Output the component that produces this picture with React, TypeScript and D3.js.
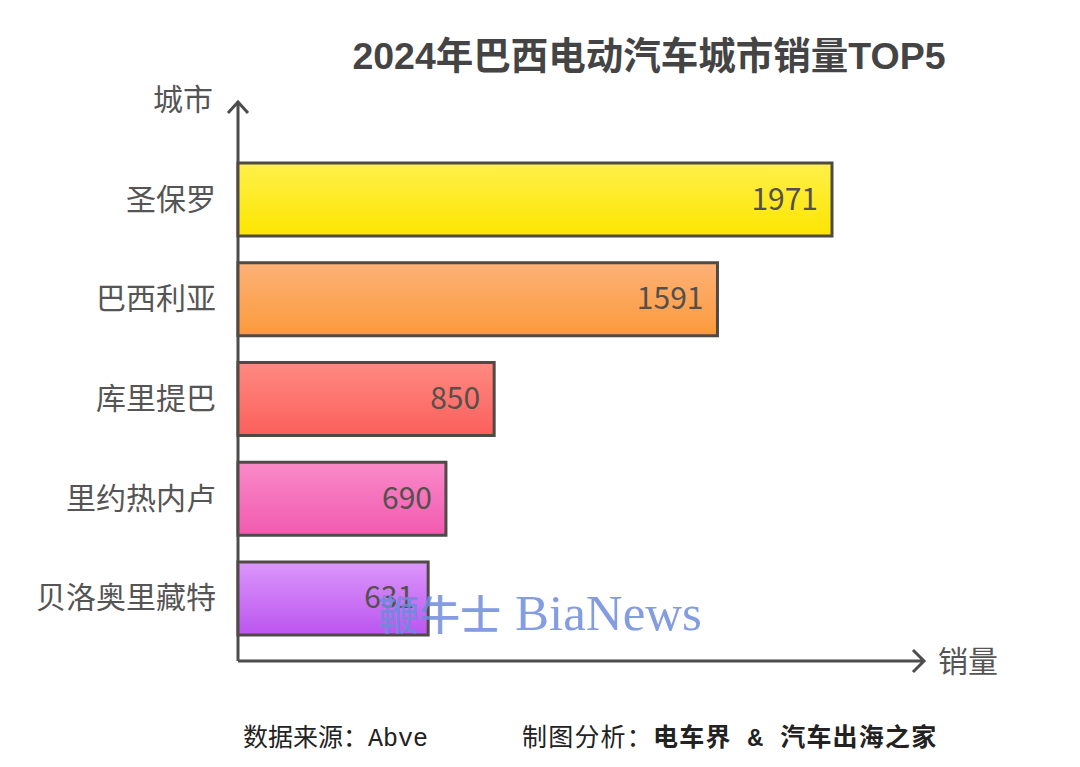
import React from 'react';
import * as d3 from 'd3';

const cities = ['圣保罗', '巴西利亚', '库里提巴', '里约热内卢', '贝洛奥里藏特'];
const sales = [1971, 1591, 850, 690, 631];
const gradientTop = ['#fff04a', '#fdb177', '#ff8a80', '#f98ac8', '#dc96fb'];
const gradientBottom = ['#fde500', '#fb9a3c', '#fb5f5c', '#f25ab0', '#bb55f0'];

const width = 1080;
const height = 767;
const cjk = '"Noto Sans CJK SC", "Noto Sans", sans-serif';
const footerFont = '"Liberation Mono", "Noto Sans CJK SC", monospace';

const x = d3.scaleLinear().domain([0, 1971]).range([238, 832]);
const y = d3.scaleBand<string>().domain(cities).range([163, 635]).paddingInner(0.268).paddingOuter(0);

export default function App() {
  const axisColor = '#4d4d4d';
  return (
    <svg
      width={width}
      height={height}
      viewBox={`0 0 ${width} ${height}`}
      style={{ position: 'absolute', left: 0, top: 0, display: 'block', background: '#fff' }}
    >
      <defs>
        {cities.map((c, i) => (
          <linearGradient key={c} id={`bar-${i}`} x1="0" y1="0" x2="0" y2="1">
            <stop offset="0%" stopColor={gradientTop[i]} />
            <stop offset="100%" stopColor={gradientBottom[i]} />
          </linearGradient>
        ))}
      </defs>

      <text
        x={649}
        y={69}
        textAnchor="middle"
        fontFamily={'"Liberation Sans", "Noto Sans CJK SC", sans-serif'}
        fontSize={37.5}
        fontWeight={700}
        fill="#444444"
      >
        2024年巴西电动汽车城市销量TOP5
      </text>

      {/* axes */}
      <path d="M238,661V102M228,113L238,102L248,113" fill="none" stroke={axisColor} strokeWidth={3} />
      <path d="M238,661H923M913,650L924,661L913,672" fill="none" stroke={axisColor} strokeWidth={3} />
      <text x={213} y={110} textAnchor="end" fontFamily={cjk} fontSize={30} fill="#555555">城市</text>
      <text x={938} y={672} fontFamily={cjk} fontSize={30} fill="#555555">销量</text>

      {cities.map((c, i) => {
        const by = y(c)!;
        const bh = y.bandwidth();
        return (
          <g key={c}>
            <rect
              x={x(0)}
              y={by}
              width={x(sales[i]) - x(0)}
              height={bh}
              fill={`url(#bar-${i})`}
              stroke="#4f4a45"
              strokeWidth={3}
            />
            <text x={216} y={by + bh / 2 + 10} textAnchor="end" fontFamily={cjk} fontSize={30} fill="#555555">
              {c}
            </text>
            <text
              x={x(sales[i]) - 14}
              y={by + bh / 2 + 10}
              textAnchor="end"
              fontFamily={cjk}
              fontSize={30}
              fill="#55504c"
            >
              {sales[i]}
            </text>
          </g>
        );
      })}

      {/* watermark */}
      <g fill="#6e8cdc" fillOpacity={0.85}>
        <text x={378} y={630} fontFamily={cjk} fontSize={41} fontWeight={500}>鞭牛士</text>
        <text x={515} y={630} fontFamily={'"Liberation Serif", serif'} fontSize={51}>BiaNews</text>
      </g>

      {/* footer */}
      <text x={243} y={746} fontFamily={footerFont} fontSize={25} fill="#222222">
        数据来源：Abve
      </text>
      <text x={522} y={746} fontFamily={footerFont} fontSize={25} letterSpacing={1.2} fill="#222222">
        制图分析：<tspan fontWeight={700}>电车界 &amp; 汽车出海之家</tspan>
      </text>
    </svg>
  );
}
